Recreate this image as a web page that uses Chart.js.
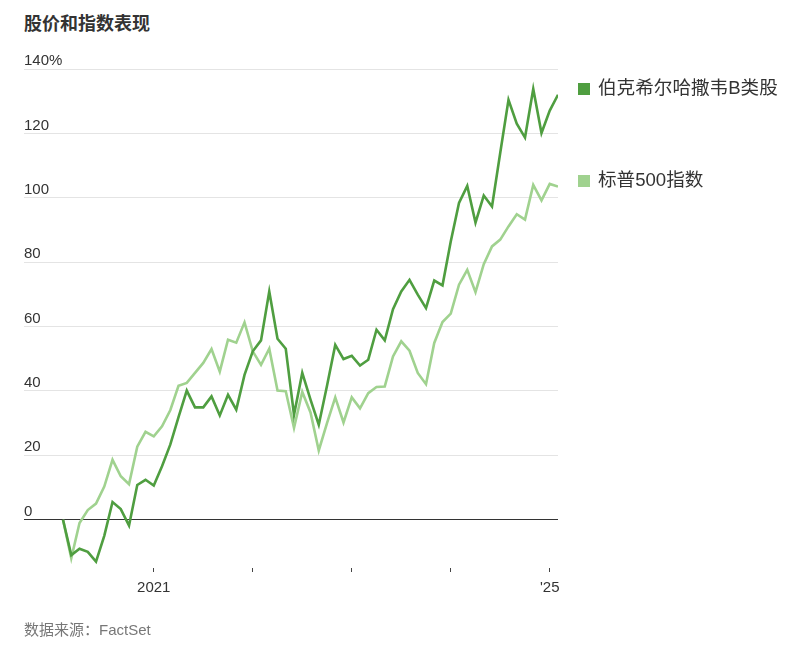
<!DOCTYPE html>
<html lang="zh">
<head>
<meta charset="utf-8">
<title>股价和指数表现</title>
<script src="https://cdn.jsdelivr.net/npm/chart.js@4/dist/chart.umd.min.js"></script>
<style>
  html, body { margin: 0; padding: 0; background: #fff; }
  body { width: 802px; height: 653px; position: relative; overflow: hidden;
         font-family: "Liberation Sans", Arial, "Noto Sans CJK SC", sans-serif; color: #333; }
  #wrap { position: absolute; left: 0; top: 0; width: 802px; height: 653px; }
  .title { position: absolute; left: 24px; top: 9px; font-size: 18px; font-weight: bold; color: #333;
           font-family: "Liberation Sans", Arial, "Noto Sans CJK SC", sans-serif; }
  .legend { position: absolute; left: 578px; font-size: 18.6px; color: #333; line-height: 20px; }
  .legend i { display: inline-block; width: 12px; height: 12px; margin-right: 8px; vertical-align: -1px; }
  .source { position: absolute; left: 24px; top: 618px; font-size: 15px; color: #777; }
</style>
</head>
<body>
<div class="title">股价和指数表现</div>
<div id="wrap"><canvas id="chart" width="802" height="653"></canvas></div>
<div class="legend" id="lg0" style="top:78px"></div>
<div class="legend" id="lg1" style="top:170px"></div>
<div class="source">数据来源：FactSet</div>
<script>
// Monthly cumulative performance since Feb 2020, in percent
const startYear = 2020, startMonth = 2;
const seriesNames = ['伯克希尔哈撒韦B类股', '标普500指数'];
const seriesColors = ['#4f9e40', '#a0d28f'];

const berkshireB = [
  0, -11, -9, -10, -13, -5, 5.5, 3.3, -1.8, 10.8,
  12.4, 10.6, 16.6, 23.3, 31.9, 40.1, 34.9, 34.9, 38.3, 32.4,
  38.8, 34.2, 45, 52.3, 55.7, 70.9, 56.2, 53.1, 32.6, 45.6,
  37.3, 29.5, 41.6, 54.3, 49.9, 50.9, 47.9, 49.7, 59, 55.7,
  65.4, 70.9, 74.5, 69.9, 65.7, 74.3, 72.8, 86.4, 98.4, 103.7,
  92.3, 100.7, 97.3, 114, 130.4, 123, 118.7, 133.8, 120.1, 127.1,
  132
];
const sp500 = [
  0, -12, -1, 3, 5, 10.3, 18.6, 13.5, 11, 22.7,
  27.3, 25.9, 29, 34, 41.6, 42.5, 45.6, 48.7, 53, 46,
  55.9, 55, 61.3, 52.3, 48.1, 53.1, 40.1, 39.9, 28.5, 39.7,
  33.3, 21.5, 30, 38, 30.2, 38, 34.6, 39.3, 41.2, 41.4,
  50.7, 55.4, 52.5, 45.6, 42.1, 54.9, 61.4, 64, 73, 77.6,
  70.7, 79.4, 84.9, 87, 91.1, 94.9, 93.2, 104, 99.2, 104.3,
  103.5
];
const yTicks = [0, 20, 40, 60, 80, 100, 120, 140];
const xTickLabels = { '2021-01': '2021', '2022-01': '', '2023-01': '', '2024-01': '', '2025-01': "'25" };

// month labels for each point
const months = berkshireB.map((_, i) => {
  const m = startMonth - 1 + i;
  const y = startYear + Math.floor(m / 12);
  return y + '-' + String(m % 12 + 1).padStart(2, '0');
});
const xTickIdx = Object.keys(xTickLabels).map(k => months.indexOf(k));

const toPoints = arr => arr.map((v, i) => ({ x: i, y: v }));

// legend
seriesNames.forEach((n, i) => {
  const el = document.getElementById('lg' + i);
  el.innerHTML = '<i style="background:' + seriesColors[i] + '"></i>' + n;
});

const font = { family: '"Liberation Sans", Arial, "Noto Sans CJK SC", sans-serif', size: 15 };

new Chart(document.getElementById('chart'), {
  type: 'line',
  data: {
    datasets: [
      { label: seriesNames[0], data: toPoints(berkshireB), borderColor: seriesColors[0], borderWidth: 2.6,
        pointRadius: 0, tension: 0, fill: false },
      { label: seriesNames[1], data: toPoints(sp500), borderColor: seriesColors[1], borderWidth: 2.6,
        pointRadius: 0, tension: 0, fill: false }
    ]
  },
  options: {
    responsive: false,
    animation: false,
    events: [],
    layout: { padding: { left: 24, right: 244, top: 69, bottom: 45 } },
    plugins: { legend: { display: false }, tooltip: { enabled: false }, title: { display: false } },
    scales: {
      x: {
        type: 'linear',
        min: -4.73,
        max: 60,
        afterFit: s => { s.height = 40; },
        afterBuildTicks: s => { s.ticks = xTickIdx.map(v => ({ value: v })); },
        border: { display: false },
        grid: { drawOnChartArea: false, drawTicks: true, tickLength: 4, color: '#444', lineWidth: 1 },
        ticks: {
          autoSkip: false, maxRotation: 0, padding: 7, color: '#333', font: font,
          callback: v => xTickLabels[months[v]] ?? ''
        }
      },
      y: {
        min: -15,
        max: 140,
        afterFit: s => { s.width = 0; },
        afterBuildTicks: s => { s.ticks = yTicks.map(v => ({ value: v })); },
        border: { display: false },
        grid: {
          drawTicks: false,
          color: c => c.tick && c.tick.value === 0 ? '#333' : '#e4e4e4',
          lineWidth: 1
        },
        ticks: {
          mirror: true, padding: 0, labelOffset: -8, color: '#333', font: font,
          callback: v => v === 140 ? '140%' : String(v)
        }
      }
    }
  }
});
</script>
</body>
</html>
